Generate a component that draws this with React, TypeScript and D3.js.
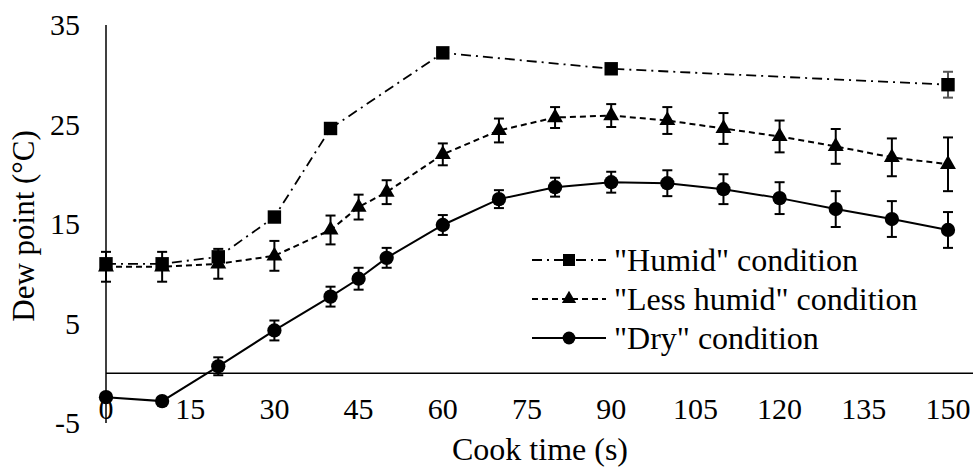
import React, { useEffect, useRef } from "react";
import * as d3 from "d3";

// cook time (s) for the two full series
const times = [0, 10, 20, 30, 40, 45, 50, 60, 70, 80, 90, 100, 110, 120, 130, 140, 150];
const dryValues = [-2.4, -2.8, 0.7, 4.3, 7.7, 9.5, 11.6, 14.9, 17.5, 18.7, 19.2, 19.1, 18.5, 17.6, 16.5, 15.5, 14.4];
const dryErrors = [0, 0, 0.9, 1.0, 1.0, 1.1, 1.0, 1.0, 0.9, 0.95, 1.05, 1.3, 1.5, 1.6, 1.8, 1.8, 1.8];
const lessHumidValues = [10.7, 10.7, 11.0, 11.8, 14.4, 16.7, 18.2, 22.0, 24.4, 25.7, 25.9, 25.4, 24.6, 23.8, 22.8, 21.7, 21.0];
const lessHumidErrors = [1.5, 1.5, 1.5, 1.5, 1.45, 1.25, 1.2, 1.1, 1.2, 1.05, 1.15, 1.35, 1.55, 1.6, 1.75, 1.9, 2.7];

// humid condition was only sampled at a few times
const humidTimes = [0, 10, 20, 30, 40, 60, 90, 150];
const humidValues = [11.0, 11.0, 11.7, 15.7, 24.6, 32.2, 30.6, 29.0];
const humidErrors = [0, 0, 0, 0, 0, 0, 0, 1.3];

const xTicks = [0, 15, 30, 45, 60, 75, 90, 105, 120, 135, 150];
const yTicks = [-5, 5, 15, 25, 35];
const seriesNames = ['"Humid" condition', '"Less humid" condition', '"Dry" condition'];

const sizes = { width: 973, height: 472 };
const font = "'Liberation Serif', 'Times New Roman', serif";

export default function App() {
  const ref = useRef<SVGSVGElement>(null);

  useEffect(() => {
    const svg = d3.select(ref.current);
    svg.selectAll("*").remove();

    const root = svg.append("g").style("font-family", font);

    const x = d3.scaleLinear().domain([0, 150]).range([106, 948]);
    const y = d3.scaleLinear().domain([-5, 35]).range([423, 25]);

    const series = [
      {
        name: seriesNames[0],
        xs: humidTimes, vals: humidValues, errs: humidErrors,
        dash: "10,5,2,5", width: 1.8, symbol: d3.symbolSquare, size: 180, errColor: "#555",
      },
      {
        name: seriesNames[1],
        xs: times, vals: lessHumidValues, errs: lessHumidErrors,
        dash: "6,4", width: 2, symbol: d3.symbolTriangle, size: 110, errColor: "#000",
      },
      {
        name: seriesNames[2],
        xs: times, vals: dryValues, errs: dryErrors,
        dash: null, width: 2, symbol: d3.symbolCircle, size: 160, errColor: "#000",
      },
    ];

    // axes lines, no tick marks
    root.append("line")
      .attr("x1", x(0)).attr("x2", x(0))
      .attr("y1", y(35)).attr("y2", y(-5))
      .attr("stroke", "#000").attr("stroke-width", 1.5);
    root.append("line")
      .attr("x1", x(0)).attr("x2", x(156))
      .attr("y1", y(0)).attr("y2", y(0))
      .attr("stroke", "#000").attr("stroke-width", 1.5);

    root.append("g")
      .selectAll("text")
      .data(yTicks)
      .join("text")
      .attr("x", 80)
      .attr("y", (d) => y(d) + 10)
      .attr("text-anchor", "end")
      .attr("font-size", 30)
      .text((d) => d);

    root.append("g")
      .selectAll("text")
      .data(xTicks)
      .join("text")
      .attr("x", (d) => x(d))
      .attr("y", 419)
      .attr("text-anchor", "middle")
      .attr("font-size", 30)
      .text((d) => d);

    root.append("text")
      .attr("x", 540).attr("y", 460)
      .attr("text-anchor", "middle")
      .attr("font-size", 32)
      .text("Cook time (s)");

    root.append("text")
      .attr("transform", "translate(34,226) rotate(-90)")
      .attr("text-anchor", "middle")
      .attr("font-size", 31)
      .text("Dew point (°C)");

    series.forEach((s) => {
      const pts = s.xs.map((t, i) => ({ t, v: s.vals[i], e: s.errs[i] }));
      const g = root.append("g");

      g.append("path")
        .datum(pts)
        .attr("fill", "none")
        .attr("stroke", "#000")
        .attr("stroke-width", s.width)
        .attr("stroke-dasharray", s.dash)
        .attr("d", d3.line<any>().x((d) => x(d.t)).y((d) => y(d.v)));

      const bars = g.selectAll("g.err")
        .data(pts.filter((d) => d.e > 0))
        .join("g")
        .attr("class", "err")
        .attr("stroke", s.errColor)
        .attr("stroke-width", 2);
      bars.append("line")
        .attr("x1", (d) => x(d.t)).attr("x2", (d) => x(d.t))
        .attr("y1", (d) => y(d.v - d.e)).attr("y2", (d) => y(d.v + d.e));
      bars.append("line")
        .attr("x1", (d) => x(d.t) - 5).attr("x2", (d) => x(d.t) + 5)
        .attr("y1", (d) => y(d.v + d.e)).attr("y2", (d) => y(d.v + d.e));
      bars.append("line")
        .attr("x1", (d) => x(d.t) - 5).attr("x2", (d) => x(d.t) + 5)
        .attr("y1", (d) => y(d.v - d.e)).attr("y2", (d) => y(d.v - d.e));

      g.selectAll("path.mark")
        .data(pts)
        .join("path")
        .attr("class", "mark")
        .attr("transform", (d) => `translate(${x(d.t)},${y(d.v)})`)
        .attr("d", d3.symbol().type(s.symbol).size(s.size))
        .attr("fill", "#000");
    });

    // legend
    const legend = root.append("g");
    series.forEach((s, i) => {
      const ly = 260 + i * 39;
      legend.append("line")
        .attr("x1", 532).attr("x2", 606)
        .attr("y1", ly).attr("y2", ly)
        .attr("stroke", "#000")
        .attr("stroke-width", s.width)
        .attr("stroke-dasharray", s.dash);
      legend.append("path")
        .attr("transform", `translate(569,${ly})`)
        .attr("d", d3.symbol().type(s.symbol).size(s.size * 0.8))
        .attr("fill", "#000");
      legend.append("text")
        .attr("x", 614).attr("y", ly + 11)
        .attr("font-size", 32)
        .text(s.name);
    });
  }, []);

  return (
    <svg
      ref={ref}
      width={sizes.width}
      height={sizes.height}
      style={{ position: "fixed", top: 0, left: 0, background: "#fff" }}
    ></svg>
  );
}
